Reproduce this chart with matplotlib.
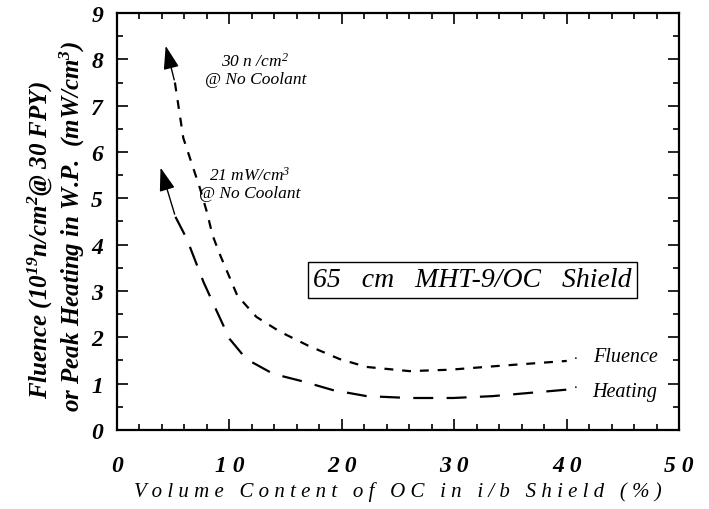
import numpy as np
import matplotlib
matplotlib.use('Agg')
import matplotlib.pyplot as plt
from matplotlib.ticker import MultipleLocator

plt.rcParams['font.family'] = 'Liberation Serif'
plt.rcParams['mathtext.fontset'] = 'custom'
plt.rcParams['mathtext.rm'] = 'Liberation Serif:italic'
plt.rcParams['mathtext.it'] = 'Liberation Serif:italic'
plt.rcParams['mathtext.bf'] = 'Liberation Serif:bold:italic'

# values
fluence_x = [5.15, 5.9, 7.4, 8.0, 8.5, 9.2, 10.7, 12.4, 14.5, 17.0, 19.8, 22.2, 26.0, 29.6, 33.8, 40.0]
fluence_y = [7.5, 6.3, 5.2, 4.7, 4.2, 3.76, 2.9, 2.44, 2.12, 1.82, 1.53, 1.36, 1.27, 1.30, 1.38, 1.49]
heating_x = [5.2, 6.2, 7.7, 8.9, 10.0, 11.5, 13.9, 16.5, 19.2, 22.2, 26.0, 29.9, 33.4, 40.0]
heating_y = [4.6, 4.13, 3.19, 2.55, 1.97, 1.53, 1.21, 1.05, 0.86, 0.73, 0.69, 0.69, 0.73, 0.87]
fluence_tip = (4.27, 8.35)
heating_tip = (3.8, 5.72)

xticks = [0, 10, 20, 30, 40, 50]
xticklabels = ['0', '1 0', '2 0', '3 0', '4 0', '5 0']
yticks = [0, 1, 2, 3, 4, 5, 6, 7, 8, 9]

fig = plt.figure(figsize=(7.09, 5.10), dpi=100)
ax = fig.add_axes([0.165, 0.155, 0.793, 0.8175])

ax.plot(fluence_x, fluence_y, color='black', linewidth=1.6, dashes=(4, 4),
        dash_joinstyle='round')
ax.plot(heating_x, heating_y, color='black', linewidth=1.6, dashes=(9, 6),
        dash_joinstyle='round')

ax.annotate('', xy=fluence_tip, xytext=(fluence_x[0], fluence_y[0]),
            arrowprops=dict(arrowstyle='-|>,head_length=0.9,head_width=0.3',
                            color='black', lw=1.0, mutation_scale=16))
ax.annotate('', xy=heating_tip, xytext=(heating_x[0], heating_y[0]),
            arrowprops=dict(arrowstyle='-|>,head_length=0.9,head_width=0.3',
                            color='black', lw=1.0, mutation_scale=16))

ax.text(12.3, 7.97, '30 n /cm$^2$', ha='center', va='center', fontsize=12.5, style='italic')
ax.text(12.3, 7.58, '@ No Coolant', ha='center', va='center', fontsize=12.5, style='italic')
ax.text(11.8, 5.5, '21 mW/cm$^3$', ha='center', va='center', fontsize=12.5, style='italic')
ax.text(11.8, 5.12, '@ No Coolant', ha='center', va='center', fontsize=12.5, style='italic')

ax.text(40.8, fluence_y[-1], '.', ha='center', va='bottom', fontsize=11)
ax.text(40.8, heating_y[-1], '.', ha='center', va='bottom', fontsize=11)
ax.text(42.3, 1.58, 'Fluence', ha='left', va='center', fontsize=14.5, style='italic')
ax.text(42.3, 0.84, 'Heating', ha='left', va='center', fontsize=14.5, style='italic')

ax.text(31.6, 3.24, '65   cm   MHT-9/OC   Shield', ha='center', va='center', fontsize=20,
        style='italic', bbox=dict(boxstyle='square,pad=0.2', facecolor='white',
                                  edgecolor='black', linewidth=1.0))

ax.set_xlim(0, 50)
ax.set_ylim(0, 9)
ax.set_xticks(xticks)
ax.set_xticklabels(xticklabels)
ax.set_yticks(yticks)
ax.xaxis.set_minor_locator(MultipleLocator(2))
ax.yaxis.set_minor_locator(MultipleLocator(0.5))
ax.tick_params(which='both', direction='in', top=True, right=True, width=1.2)
ax.tick_params(which='major', length=8, labelsize=17)
ax.tick_params(axis='x', which='major', pad=18)
ax.tick_params(axis='y', which='major', pad=10)
ax.tick_params(which='minor', length=4)
for lab in ax.get_xticklabels() + ax.get_yticklabels():
    lab.set_fontstyle('italic')
    lab.set_fontweight('bold')
for s in ax.spines.values():
    s.set_linewidth(1.6)

ax.set_xlabel('V o l u m e   C o n t e n t   o f   O C   i n   i / b   S h i e l d   ( % )',
              fontsize=15, style='italic', labelpad=4)
fig.text(0.057, 0.53, r'Fluence (10$^{\mathbf{19}}$n/cm$^{\mathbf{2}}$@ 30 FPY)', rotation=90,
         ha='center', va='center', fontsize=18, style='italic', fontweight='bold')
fig.text(0.102, 0.555, r'or Peak Heating in W.P.  (mW/cm$^{\mathbf{3}}$)', rotation=90,
         ha='center', va='center', fontsize=18, style='italic', fontweight='bold')

fig.savefig('out.png', dpi=100)
